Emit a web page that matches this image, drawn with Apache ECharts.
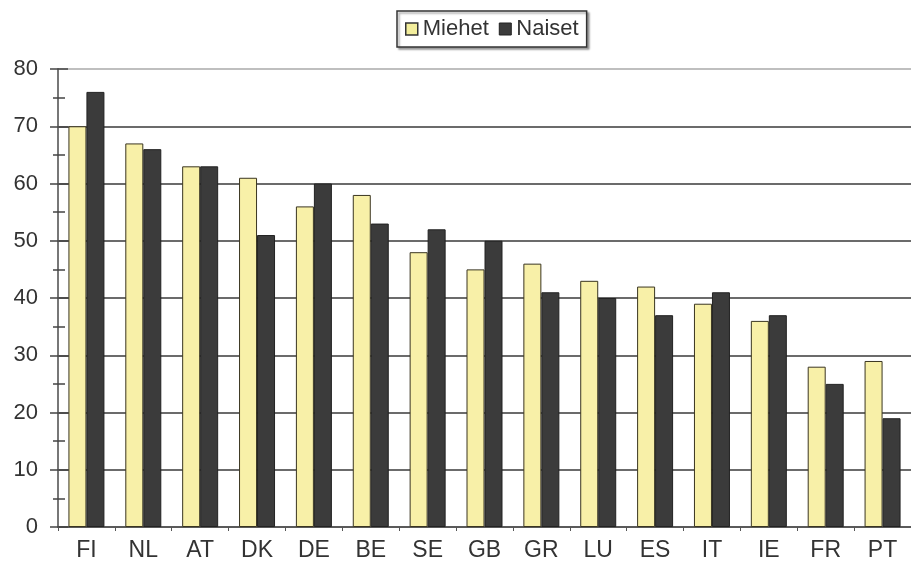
<!DOCTYPE html>
<html>
<head>
<meta charset="utf-8">
<script src="https://cdn.jsdelivr.net/npm/echarts@6/dist/echarts.min.js"></script>
<style>
html,body{margin:0;padding:0;background:#fff;}
#c{width:911px;height:580px;}
</style>
</head>
<body>
<div id="c"></div>
<script>
const categories = ['FI','NL','AT','DK','DE','BE','SE','GB','GR','LU','ES','IT','IE','FR','PT'];
const miehet = [70,67,63,61,56,58,48,45,46,43,42,39,36,28,29];
const naiset = [76,66,63,51,60,53,52,50,41,40,37,41,37,25,19];
const yMin = 0, yMax = 80, yStep = 10;

const font = '"Liberation Sans", Arial, sans-serif';
const chart = echarts.init(document.getElementById('c'));
const gridColors = ['#3a3a3a','#3a3a3a','#3a3a3a','#3a3a3a','#3a3a3a','#3a3a3a','#3a3a3a','#3a3a3a','#aaa'];
chart.setOption({
  animation: false,
  backgroundColor: '#fff',
  legend: {
    left: 397, top: 11,
    padding: [7, 8, 7, 8],
    itemWidth: 12, itemHeight: 12, itemGap: 10,
    borderColor: '#333', borderWidth: 1.5,
    shadowColor: 'rgba(0,0,0,0.35)', shadowOffsetX: 2, shadowOffsetY: 2, shadowBlur: 2,
    backgroundColor: '#fff',
    textStyle: {fontFamily: font, fontSize: 22, color: '#333'},
    data: [
      {name: 'Miehet', icon: 'rect', itemStyle: {color: '#f3ee9c', borderColor: '#333', borderWidth: 1.5}},
      {name: 'Naiset', icon: 'rect', itemStyle: {color: '#3b3b3b', borderColor: '#222', borderWidth: 1}}
    ]
  },
  grid: {left: 58, top: 69, width: 860, height: 458, containLabel: false},
  xAxis: {
    type: 'category',
    data: categories,
    axisLine: {lineStyle: {color: '#555', width: 1.5}},
    axisTick: {show: true, length: 4, lineStyle: {color: '#555'}},
    axisLabel: {fontFamily: font, fontSize: 23, color: '#333', margin: 12}
  },
  yAxis: [
    {
      type: 'value', min: yMin, max: yMax, interval: yStep,
      axisLine: {show: true, lineStyle: {color: '#777', width: 2}},
      axisTick: {show: true, length: 8, lineStyle: {color: '#444', width: 1.5}},
      minorTick: {show: true, splitNumber: 2, length: 5, lineStyle: {color: '#444', width: 1.5}},
      axisLabel: {fontFamily: font, fontSize: 22, color: '#333', margin: 20},
      splitLine: {show: true, lineStyle: {color: gridColors, width: 1.5}}
    },
    {
      type: 'value', min: yMin, max: yMax, interval: yStep, position: 'left',
      axisLine: {show: false},
      axisTick: {show: true, inside: true, length: 10, lineStyle: {color: '#444', width: 1.5}},
      minorTick: {show: true, splitNumber: 2, length: 7, lineStyle: {color: '#444', width: 1.5}},
      axisLabel: {show: false},
      splitLine: {show: false}
    }
  ],
  series: [
    {
      name: 'Miehet', type: 'bar', data: miehet, yAxisIndex: 0,
      barWidth: 18, barGap: '0%',
      itemStyle: {color: '#f8f0a8', borderColor: '#3a3520', borderWidth: 1}
    },
    {
      name: 'Naiset', type: 'bar', data: naiset, yAxisIndex: 0,
      barWidth: 18, barGap: '0%',
      itemStyle: {color: '#3b3b3b', borderColor: '#222', borderWidth: 1}
    }
  ]
});
</script>
</body>
</html>
